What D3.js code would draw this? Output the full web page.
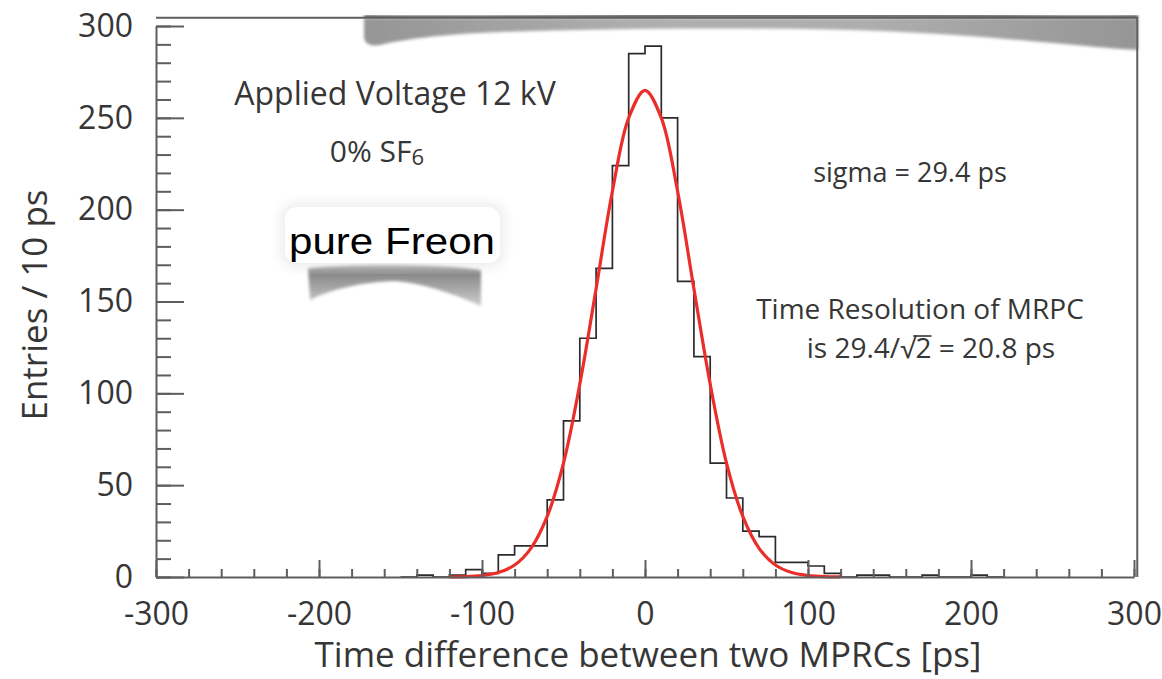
<!DOCTYPE html>
<html>
<head>
<meta charset="utf-8">
<script src="https://cdn.jsdelivr.net/npm/d3@7"></script>
<style>
  body { margin: 0; background: #fff; }
  text { font-family: "Open Sans", "Noto Sans", sans-serif; fill: #363636; }
</style>
</head>
<body>
<div id="chart"></div>
<script>
// histogram: lower bin edge (ps) and entries per 10 ps bin
var binEdges = [-150, -140, -130, -120, -110, -100, -90, -80, -70, -60, -50, -40, -30, -20, -10,
                0, 10, 20, 30, 40, 50, 60, 70, 80, 90, 100, 110, 120, 130, 140, 150, 160, 170, 180, 190, 200, 210];
var binCounts = [0, 1, 0, 1, 4, 2, 12, 17, 17, 42, 85, 130, 168, 224, 285,
                 289, 250, 161, 120, 62, 43, 25, 22, 8, 8, 6, 2, 0, 1, 1, 0, 0, 1, 0, 0, 1, 0];
var binWidth = 10;

// red fit curve
var fitX = [-120, -110, -100, -90, -80, -70, -60, -50, -40, -30, -20, -10, 0,
            10, 20, 30, 40, 50, 60, 70, 80, 90, 100, 110, 120];
var fitY = [0.1, 0.2, 0.8, 2.4, 6.5, 15.6, 33, 62, 105, 157, 210, 250, 265,
            250, 210, 157, 105, 62, 33, 15.6, 6.5, 2.4, 0.8, 0.2, 0.1];

var xMajorTicks = [-300, -200, -100, 0, 100, 200, 300];
var yMajorTicks = [0, 50, 100, 150, 200, 250, 300];

var width = 1162, height = 679;

var svg = d3.select("#chart")
    .append("svg")
    .attr("width", width)
    .attr("height", height);

svg.append("rect").attr("width", width).attr("height", height).attr("fill", "#fff");

var x = d3.scaleLinear().domain([-300, 300]).range([156, 1134]);
var y = d3.scaleLinear().domain([0, 300]).range([577, 26]);

var defs = svg.append("defs");
defs.append("filter").attr("id", "blur")
    .append("feGaussianBlur").attr("stdDeviation", 1.8);
defs.append("filter").attr("id", "glow")
    .append("feGaussianBlur").attr("stdDeviation", 6);
var g1 = defs.append("linearGradient").attr("id", "smudge")
    .attr("x1", 0).attr("y1", 0).attr("x2", 0).attr("y2", 1);
g1.append("stop").attr("offset", "0%").attr("stop-color", "#666");
g1.append("stop").attr("offset", "100%").attr("stop-color", "#c8c8c8");
var g2 = defs.append("linearGradient").attr("id", "band")
    .attr("x1", 0).attr("y1", 0).attr("x2", 1).attr("y2", 0);
g2.append("stop").attr("offset", "0%").attr("stop-color", "#8a8a8a");
g2.append("stop").attr("offset", "35%").attr("stop-color", "#a6a6a6");
g2.append("stop").attr("offset", "65%").attr("stop-color", "#a6a6a6");
g2.append("stop").attr("offset", "100%").attr("stop-color", "#8a8a8a");

// grey smudges left over in the picture
svg.append("path")
    .attr("d", "M364,18 L1138,18 L1138,50 C1080,47 1000,36 880,31 C760,27 620,28 500,32 C440,34 400,40 380,45 C368,47 364,42 364,36 Z")
    .attr("fill", "url(#band)")
    .attr("opacity", 0.9)
    .attr("filter", "url(#blur)");
svg.append("path")
    .attr("d", "M364,17 C500,19 640,15 800,16 C950,15 1050,18 1138,17")
    .attr("fill", "none").attr("stroke", "#474747").attr("stroke-width", 3.5)
    .attr("filter", "url(#blur)");
svg.append("path")
    .attr("d", "M308,268 C350,263 440,263 481,270 L481,306 C450,292 420,283 395,281 C360,282 330,290 310,300 Z")
    .attr("fill", "url(#smudge)")
    .attr("opacity", 0.9)
    .attr("filter", "url(#blur)");

// frame
svg.append("path")
    .attr("d", "M" + x(-300) + "," + y(304.5) + "H" + x(302) + "V" + y(0))
    .attr("fill", "none").attr("stroke", "#5e5e5e").attr("stroke-width", 2);

// histogram outline
var histPts = binEdges.map(function (e, i) { return [e, binCounts[i]]; });
histPts.push([binEdges[binEdges.length - 1] + binWidth, binCounts[binCounts.length - 1]]);
var stepLine = d3.line()
    .x(function (d) { return x(d[0]); })
    .y(function (d) { return y(d[1]); })
    .curve(d3.curveStepAfter);
svg.append("path")
    .attr("d", stepLine(histPts))
    .attr("fill", "none")
    .attr("stroke", "#2b2b2b")
    .attr("stroke-width", 1.7);

// fit
var fitLine = d3.line()
    .x(function (d, i) { return x(fitX[i]); })
    .y(function (d) { return y(d); })
    .curve(d3.curveCatmullRom);
svg.append("path")
    .attr("d", fitLine(fitY))
    .attr("fill", "none")
    .attr("stroke", "#ea2e2a")
    .attr("stroke-width", 3.2);

// axes: minor ticks, then major ticks with labels
function styleAxis(sel) {
    sel.selectAll("path,line").attr("stroke", "#5e5e5e").attr("stroke-width", 2);
    sel.selectAll("text").attr("fill", "#333").style("font-size", "32px")
        .style("font-family", "'Open Sans', sans-serif");
}
function dropLabels(g) {
    g.select(".domain").remove();
    g.selectAll("text").remove();
}

svg.append("g")
    .attr("transform", "translate(0," + y(0) + ")")
    .call(d3.axisBottom(x).tickValues(d3.range(-300, 301, 20)).tickSizeInner(-8).tickSizeOuter(0))
    .call(styleAxis)
    .call(dropLabels);
svg.append("g")
    .attr("transform", "translate(0," + y(0) + ")")
    .call(d3.axisBottom(x).tickValues(xMajorTicks).tickSizeInner(-17).tickSizeOuter(0)
        .tickPadding(25).tickFormat(function (d) { return String(d); }))
    .call(styleAxis);

svg.append("g")
    .attr("transform", "translate(" + x(-300) + ",0)")
    .call(d3.axisLeft(y).tickValues(d3.range(0, 301, 10)).tickSizeInner(-15).tickSizeOuter(0))
    .call(styleAxis)
    .call(dropLabels);
svg.append("g")
    .attr("transform", "translate(" + x(-300) + ",0)")
    .call(d3.axisLeft(y).tickValues(yMajorTicks).tickSizeInner(-28).tickSizeOuter(0).tickPadding(23))
    .call(styleAxis);

// axis titles
svg.append("text")
    .attr("x", 648).attr("y", 667)
    .attr("text-anchor", "middle")
    .style("font-size", "35px")
    .text("Time difference between two MPRCs [ps]");

svg.append("text")
    .attr("transform", "translate(47,305) rotate(-90)")
    .attr("text-anchor", "middle")
    .style("font-size", "35px")
    .text("Entries / 10 ps");

// annotations
svg.append("text")
    .attr("x", 395).attr("y", 105)
    .attr("text-anchor", "middle")
    .style("font-size", "32px")
    .text("Applied Voltage 12 kV");

var sf = svg.append("text")
    .attr("x", 377).attr("y", 162)
    .attr("text-anchor", "middle")
    .style("font-size", "30px");
sf.append("tspan").text("0% SF");
sf.append("tspan").attr("dy", 3).style("font-size", "22px").text("6");

svg.append("text")
    .attr("x", 910).attr("y", 182)
    .attr("text-anchor", "middle")
    .style("font-size", "27px")
    .text("sigma = 29.4 ps");

svg.append("text")
    .attr("x", 920).attr("y", 319)
    .attr("text-anchor", "middle")
    .style("font-size", "28px")
    .text("Time Resolution of MRPC");

var resY = 358;
var res = svg.append("text")
    .attr("x", 931).attr("y", resY)
    .attr("text-anchor", "middle")
    .style("font-size", "28px")
    .text("is 29.4/\u221A2 = 20.8 ps");
// overline over the 2 under the root sign
var rootBox = res.node().getExtentOfChar(8);
var twoBox = res.node().getExtentOfChar(9);
svg.append("line")
    .attr("x1", rootBox.x + rootBox.width * 0.85).attr("x2", twoBox.x + twoBox.width)
    .attr("y1", resY - 22).attr("y2", resY - 22)
    .attr("stroke", "#363636").attr("stroke-width", 1.6);

// "pure Freon" label box
svg.append("rect")
    .attr("x", 281).attr("y", 203)
    .attr("width", 223).attr("height", 64)
    .attr("rx", 14)
    .attr("fill", "#ececec")
    .attr("filter", "url(#glow)");
svg.append("rect")
    .attr("x", 285).attr("y", 207)
    .attr("width", 215).attr("height", 56)
    .attr("rx", 12)
    .attr("fill", "#fff");
svg.append("text")
    .attr("x", 392).attr("y", 254)
    .attr("text-anchor", "middle")
    .style("font-family", "'Liberation Sans', Arial, sans-serif")
    .style("font-size", "37px")
    .style("fill", "#000")
    .attr("textLength", 206)
    .attr("lengthAdjust", "spacingAndGlyphs")
    .text("pure Freon");
</script>
</body>
</html>
